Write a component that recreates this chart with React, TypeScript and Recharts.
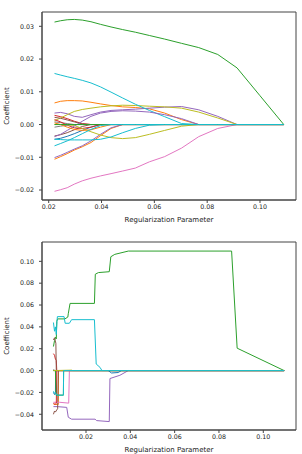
import React from 'react';
import { LineChart, Line, XAxis, YAxis, ReferenceArea, Label } from 'recharts';

// tab10 colour cycle
const C = {
  blue: '#1f77b4', orange: '#ff7f0e', green: '#2ca02c', red: '#d62728', purple: '#9467bd',
  brown: '#8c564b', pink: '#e377c2', gray: '#7f7f7f', olive: '#bcbd22', cyan: '#17becf',
};

// ---------- Top panel: regularization path (shared alpha grid) ----------
const topAlphas = [0.0222, 0.0245, 0.027, 0.0297, 0.0327, 0.036, 0.0396, 0.0436, 0.048, 0.0528, 0.0581, 0.0639, 0.0703, 0.0768, 0.084, 0.0913, 0.1, 0.109];

const topBlue = [-0.0045, -0.0042, -0.0036, -0.0028, -0.0018, -0.0008, 0, 0, 0, 0, 0, 0, 0, 0, 0, 0, 0, 0];
const topOrange = [0.0066, 0.0071, 0.0073, 0.0073, 0.0072, 0.0068, 0.0063, 0.0058, 0.0054, 0.0052, 0.0048, 0.0035, 0.0015, 0, 0, 0, 0, 0];
const topGreen = [0.0313, 0.0317, 0.032, 0.0321, 0.0319, 0.0314, 0.0306, 0.0298, 0.029, 0.0282, 0.0272, 0.0261, 0.0248, 0.0235, 0.0214, 0.0173, 0.0088, 0];
const topRed = [0.0028, 0.0024, 0.0018, 0.001, 0.0003, 0, 0, 0, 0, 0, 0, 0, 0, 0, 0, 0, 0, 0];
const topPurple = [0.0035, 0.0037, 0.0033, 0.0025, 0.0022, 0.003, 0.0038, 0.0043, 0.0045, 0.0047, 0.005, 0.0053, 0.0055, 0.0045, 0.0025, 0, 0, 0];
const topBrown = [-0.0035, -0.0031, -0.0025, -0.0016, -0.0006, 0, 0, 0, 0, 0, 0, 0, 0, 0, 0, 0, 0, 0];
const topPink = [-0.0204, -0.0199, -0.0193, -0.0182, -0.0172, -0.0164, -0.0157, -0.015, -0.0142, -0.0133, -0.0114, -0.0098, -0.0072, -0.0037, -0.0012, 0, 0, 0];
const topGray = [0.0008, 0.0006, 0.0003, 0, 0, 0, 0, 0, 0, 0, 0, 0, 0, 0, 0, 0, 0, 0];
const topOlive = [0.0012, 0.002, 0.003, 0.004, 0.0046, 0.005, 0.0054, 0.0057, 0.0059, 0.0058, 0.0056, 0.0054, 0.005, 0.0038, 0.002, 0, 0, 0];
const topCyan = [0.0156, 0.0151, 0.0146, 0.0141, 0.0135, 0.0127, 0.0115, 0.0099, 0.0081, 0.0062, 0.0043, 0.0024, 0.0003, 0, 0, 0, 0, 0];
const topOrange2 = [-0.0106, -0.0098, -0.0089, -0.0078, -0.0068, -0.0055, -0.0034, -0.0012, 0, 0, 0, 0, 0, 0, 0, 0, 0, 0];
const topRed2 = [0.0015, 0.0008, -0.0002, -0.001, -0.0012, -0.0008, 0, 0, 0, 0, 0, 0, 0, 0, 0, 0, 0, 0];
const topPurple2 = [-0.0101, -0.0094, -0.0085, -0.0075, -0.0065, -0.005, -0.003, -0.001, 0, 0, 0, 0, 0, 0, 0, 0, 0, 0];
const topBrown2 = [0.0022, 0.0019, 0.0014, 0.0008, 0.0002, 0, 0, 0, 0, 0, 0, 0, 0, 0, 0, 0, 0, 0];
const topGray2 = [-0.0008, -0.0005, -0.0002, 0, 0, 0, 0, 0, 0, 0, 0, 0, 0, 0, 0, 0, 0, 0];
const topOlive2 = [0, 0, 0, -0.0003, -0.0012, -0.0022, -0.0032, -0.004, -0.0043, -0.004, -0.003, -0.0018, -0.0005, 0, 0, 0, 0, 0];
const topPurple3 = [-0.0037, -0.003, -0.0018, -0.0005, 0.001, 0.0025, 0.0035, 0.004, 0.0042, 0.0041, 0.0038, 0.003, 0.0018, 0, 0, 0, 0, 0];
const topOrange3 = [0.0005, 0, -0.0008, -0.0015, -0.0018, -0.0016, -0.0008, 0, 0, 0, 0, 0, 0, 0, 0, 0, 0, 0];
const topCyan2 = [-0.0045, -0.0046, -0.0047, -0.0047, -0.0047, -0.0047, -0.0045, -0.0038, -0.0025, -0.0012, -0.0002, 0, 0, 0, 0, 0, 0, 0];
const topGreen2 = [0, 0, 0, 0, 0, 0, 0, 0, 0, 0, 0, 0, 0, 0, 0, 0, 0, 0];
const topCyan3 = [-0.0065, -0.0058, -0.005, -0.004, -0.0028, -0.0015, -0.0003, 0, 0, 0, 0, 0, 0, 0, 0, 0, 0, 0];

const topSeries: [number[], string][] = [
  [topBlue, C.blue], [topOrange, C.orange], [topGreen, C.green], [topRed, C.red], [topPurple, C.purple],
  [topBrown, C.brown], [topPink, C.pink], [topGray, C.gray], [topOlive, C.olive], [topCyan, C.cyan],
  [topOrange2, C.orange], [topRed2, C.red], [topPurple2, C.purple], [topBrown2, C.brown], [topGray2, C.gray],
  [topOlive2, C.olive], [topPurple3, C.purple], [topOrange3, C.orange], [topCyan2, C.cyan], [topGreen2, C.green],
  [topCyan3, C.cyan],
];

// ---------- Bottom panel: step-like path, each series as [alpha, coef] ----------
const botBlue: [number, number][] = [[0.0053, -0.02], [0.0058, -0.022], [0.0062, -0.021], [0.0063, 0], [0.1094, 0]];
const botOrange: [number, number][] = [[0.0053, -0.0306], [0.0064, -0.031], [0.0075, -0.031], [0.0076, 0], [0.1094, 0]];
const botGreen: [number, number][] = [[0.0053, 0.022], [0.0058, 0.0275], [0.0062, 0.0306], [0.0066, 0.029], [0.0068, 0.045], [0.0072, 0.0473], [0.0105, 0.0473], [0.0118, 0.049], [0.012, 0.052], [0.0128, 0.0615], [0.0238, 0.0615], [0.0242, 0.0882], [0.0256, 0.0897], [0.0305, 0.0905], [0.0312, 0.1042], [0.033, 0.1064], [0.0391, 0.1094], [0.0857, 0.1094], [0.0882, 0.0205], [0.1094, 0]];
const botRed: [number, number][] = [[0.0053, 0.0155], [0.0058, 0.014], [0.0062, 0.0105], [0.0066, 0.0094], [0.0068, 0], [0.1094, 0]];
const botPurple: [number, number][] = [[0.0053, -0.033], [0.007, -0.033], [0.0113, -0.0337], [0.012, -0.0427], [0.0135, -0.0445], [0.0241, -0.0445], [0.0248, -0.0458], [0.0305, -0.0467], [0.0308, -0.0073], [0.0353, -0.0043], [0.0391, 0], [0.1094, 0]];
const botBrown: [number, number][] = [[0.0053, -0.04], [0.0058, -0.037], [0.0062, -0.038], [0.0068, -0.036], [0.0072, -0.035], [0.0075, 0], [0.1094, 0]];
const botPink: [number, number][] = [[0.0053, -0.029], [0.008, -0.029], [0.0122, -0.0298], [0.0125, 0], [0.1094, 0]];
const botGray: [number, number][] = [[0.0053, 0.001], [0.006, 0], [0.1094, 0]];
const botOlive: [number, number][] = [[0.0053, 0], [0.0135, 0.0004], [0.014, 0], [0.1094, 0]];
const botCyan: [number, number][] = [[0.0053, 0.044], [0.0058, 0.036], [0.0062, 0.04], [0.0066, 0.033], [0.0069, 0.045], [0.0071, 0.0494], [0.0101, 0.0494], [0.0106, 0.0433], [0.0125, 0.0433], [0.0135, 0.0466], [0.0238, 0.0466], [0.0246, 0.006], [0.0263, 0.003], [0.0272, 0], [0.1094, 0]];
const botBlue2: [number, number][] = [[0.0053, 0], [0.03, 0], [0.0315, -0.0022], [0.0345, -0.0018], [0.036, 0], [0.1094, 0]];
const botRed2: [number, number][] = [[0.0053, -0.03], [0.006, -0.031], [0.0066, -0.03], [0.0068, 0], [0.1094, 0]];
const botBrown2: [number, number][] = [[0.0053, 0.028], [0.0058, 0.03], [0.0064, 0.025], [0.0066, 0], [0.1094, 0]];
const botGreen2: [number, number][] = [[0.0053, 0], [0.0062, 0], [0.0065, -0.0225], [0.0098, -0.0225], [0.0099, 0], [0.1094, 0]];
const botOlive2: [number, number][] = [[0.0053, 0], [0.0132, 0], [0.1094, 0]];
const botCyan2: [number, number][] = [[0.0053, -0.019], [0.0058, -0.021], [0.0062, -0.02], [0.0068, -0.0225], [0.0098, -0.0225], [0.0099, 0], [0.1094, 0]];

const botSeries: [[number, number][], string][] = [
  [botBlue, C.blue], [botOrange, C.orange], [botGreen, C.green], [botRed, C.red], [botPurple, C.purple],
  [botBrown, C.brown], [botPink, C.pink], [botGray, C.gray], [botOlive, C.olive], [botCyan, C.cyan],
  [botBlue2, C.blue], [botRed2, C.red], [botBrown2, C.brown], [botGreen2, C.green], [botOlive2, C.olive],
  [botCyan2, C.cyan],
];

// ---------- Axes ----------
const topXTicks = [0.02, 0.04, 0.06, 0.08, 0.1];
const topYTicks = [-0.02, -0.01, 0, 0.01, 0.02, 0.03];
const botXTicks = [0.02, 0.04, 0.06, 0.08, 0.1];
const botYTicks = [-0.04, -0.02, 0, 0.02, 0.04, 0.06, 0.08, 0.1];

const xLabel = 'Regularization Parameter';
const yLabel = 'Coefficient';

const FONT = 'DejaVu Sans';
const fmt = (v: number) => (v < 0 ? '\u2212' : '') + Math.abs(v).toFixed(2);
const tickStyle = { fontSize: 6.3, fill: '#222', fontFamily: FONT };
const frame = '#444';

type Pts = { x: number; y: number }[];

function Panel(props: {
  series: [Pts, string][];
  xDomain: [number, number];
  yDomain: [number, number];
  xTicks: number[];
  yTicks: number[];
  top: number;
  xh: number;
  titleOffset: number;
}) {
  const { series, xDomain, yDomain, xTicks, yTicks, top, xh, titleOffset } = props;
  return (
    <LineChart width={302} height={227} margin={{ top, right: 6, bottom: 0, left: 0 }}>
      <XAxis
        type="number"
        dataKey="x"
        domain={xDomain}
        allowDataOverflow
        ticks={xTicks}
        tickFormatter={fmt}
        tick={tickStyle}
        tickSize={3}
        tickLine={{ stroke: frame }}
        axisLine={{ stroke: frame }}
        height={xh}
        interval={0}
      >
        <Label value={xLabel} position="insideBottom" offset={titleOffset} style={{ fontSize: 7, fill: '#222', fontFamily: FONT }} />
      </XAxis>
      <YAxis
        type="number"
        domain={yDomain}
        allowDataOverflow
        ticks={yTicks}
        tickFormatter={fmt}
        tick={tickStyle}
        tickSize={3}
        tickMargin={5}
        tickLine={{ stroke: frame }}
        axisLine={{ stroke: frame }}
        width={42}
        interval={0}
      >
        <Label value={yLabel} angle={-90} position="insideLeft" offset={7} style={{ fontSize: 7, fill: '#222', fontFamily: FONT, textAnchor: 'middle' }} />
      </YAxis>
      {series.map(([pts, color], i) => (
        <Line key={i} data={pts} dataKey="y" stroke={color} strokeWidth={1} dot={false} isAnimationActive={false} type="linear" />
      ))}
      <ReferenceArea x1={xDomain[0]} x2={xDomain[1]} y1={yDomain[0]} y2={yDomain[1]} fill="none" stroke={frame} strokeWidth={1} ifOverflow="visible" />
    </LineChart>
  );
}

export default function App() {
  const topData: [Pts, string][] = topSeries.map(([vals, color]) => [topAlphas.map((a, i) => ({ x: a, y: vals[i] })), color]);
  const botData: [Pts, string][] = botSeries.map(([pts, color]) => [pts.map(([x, y]) => ({ x, y })), color]);
  return (
    <div style={{ position: 'absolute', left: 0, top: 0, width: 302, height: 454, background: '#fff', fontFamily: FONT }}>
      <Panel series={topData} xDomain={[0.01746, 0.11363]} yDomain={[-0.02305, 0.03437]} xTicks={topXTicks} yTicks={topYTicks} top={12} xh={27} titleOffset={5} />
      <Panel series={botData} xDomain={[0.000144, 0.11476]} yDomain={[-0.0544, 0.1177]} xTicks={botXTicks} yTicks={botYTicks} top={15} xh={24} titleOffset={2} />
    </div>
  );
}
